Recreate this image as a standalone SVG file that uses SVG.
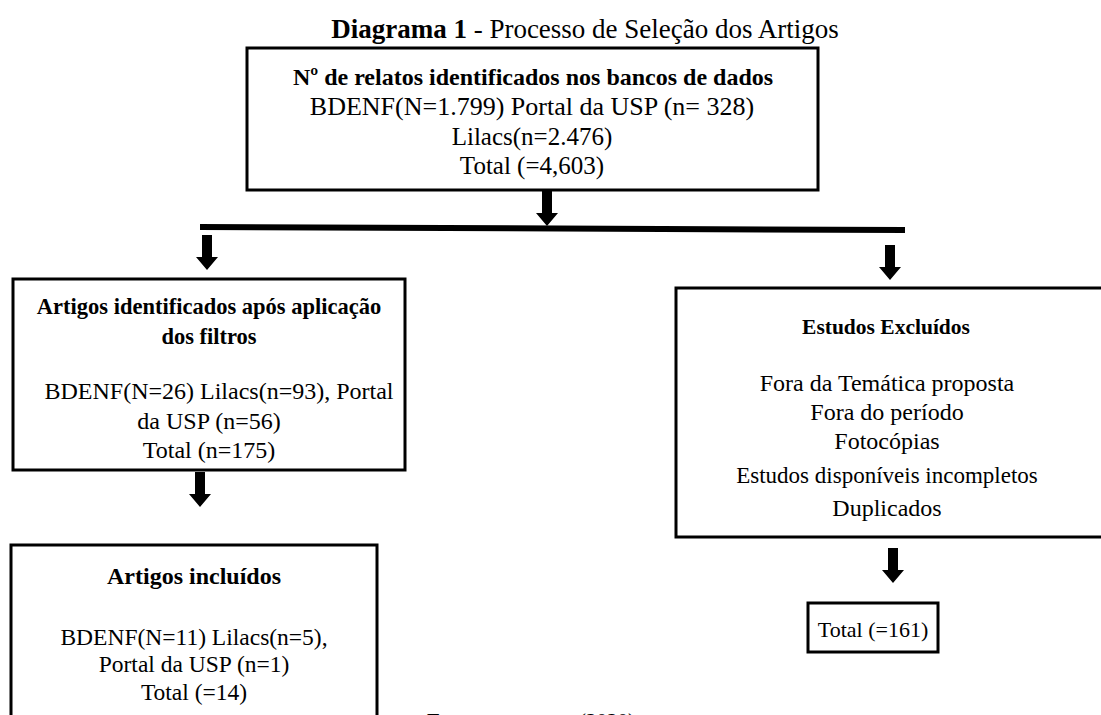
<svg xmlns="http://www.w3.org/2000/svg" width="1101" height="715" viewBox="0 0 1101 715">
<style>
.box{fill:#fff;stroke:#000;stroke-width:3}
text{font-family:"Liberation Serif","Times New Roman",serif;font-size:24px;fill:#000;text-anchor:middle}
.b{font-weight:bold}
.arrow{fill:#000}
</style>
<defs>
<path id="arr" d="M-5,0 H5 V22 H11 L0,35 L-11,22 H-5 Z"/>
</defs>
<text x="585" y="38" style="font-size:27px"><tspan class="b">Diagrama 1</tspan> - Processo de Seleção dos Artigos</text>
<g id="node-top">
<rect class="box" x="247" y="48" width="571" height="142"/>
<text class="b" x="533" y="85">Nº de relatos identificados nos bancos de dados</text>
<text x="532" y="115" style="font-size:26px">BDENF(N=1.799) Portal da USP (n= 328)</text>
<text x="532" y="145" style="font-size:25px">Lilacs(n=2.476)</text>
<text x="532" y="174" style="font-size:25px">Total (=4,603)</text>
</g>
<g id="node-filtros">
<rect class="box" x="13" y="279" width="392" height="191"/>
<text class="b" x="209" y="314" style="font-size:22.5px">Artigos identificados após aplicação</text>
<text class="b" x="209" y="344" style="font-size:22.5px">dos filtros</text>
<text x="219" y="399">BDENF(N=26) Lilacs(n=93), Portal</text>
<text x="209" y="429">da USP (n=56)</text>
<text x="209" y="458">Total (n=175)</text>
</g>
<g id="node-incluidos">
<rect class="box" x="11" y="545" width="366" height="190"/>
<text class="b" x="194" y="584">Artigos incluídos</text>
<text x="194" y="645" style="font-size:23.5px">BDENF(N=11) Lilacs(n=5),</text>
<text x="194" y="672" style="font-size:23.5px">Portal da USP (n=1)</text>
<text x="194" y="700" style="font-size:23.5px">Total (=14)</text>
</g>
<g id="node-excluidos">
<rect class="box" x="676" y="288" width="440" height="249"/>
<text class="b" x="886" y="334" style="font-size:21.5px">Estudos Excluídos</text>
<text x="887" y="391">Fora da Temática proposta</text>
<text x="887" y="420">Fora do período</text>
<text x="887" y="449">Fotocópias</text>
<text x="887" y="483" style="font-size:23px">Estudos disponíveis incompletos</text>
<text x="887" y="516">Duplicados</text>
</g>
<g id="node-total161">
<rect class="box" x="808" y="603" width="130" height="49"/>
<text x="873" y="637" style="font-size:22px">Total (=161)</text>
</g>
<g id="connectors">
<use href="#arr" class="arrow" x="547" y="191"/>
<polygon class="arrow" points="200,224 905,227 905,233 200,230"/>
<use href="#arr" class="arrow" x="207" y="235"/>
<use href="#arr" class="arrow" x="890" y="245"/>
<use href="#arr" class="arrow" x="200" y="472"/>
<use href="#arr" class="arrow" x="893" y="548"/>
</g>
<text x="531" y="728" style="font-size:21px"><tspan class="b">Fonte:</tspan> as autoras (2020)</text>
</svg>
